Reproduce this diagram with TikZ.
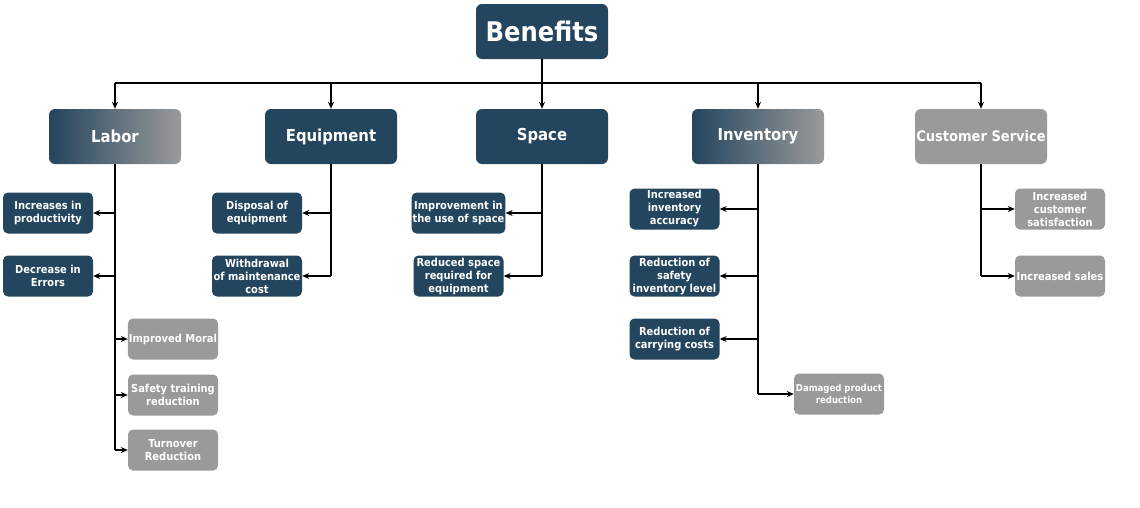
\documentclass[tikz,border=0pt]{standalone}
\usepackage{fontspec}
\setmainfont{DejaVu Sans Condensed}
\usetikzlibrary{arrows.meta}

\definecolor{navy}{HTML}{24455E}
\definecolor{ash}{HTML}{9A9A9A}

\tikzset{
  box/.style={rounded corners=6pt, text=white, align=center, inner sep=1pt},
  topbox/.style={box, fill=navy, minimum width=132pt, minimum height=55pt,
    font=\bfseries\fontsize{27}{30}\selectfont},
  headbox/.style={box, fill=navy, minimum width=132pt, minimum height=55pt,
    font=\bfseries\fontsize{16.5}{19}\selectfont},
  fadebox/.style={headbox, fill=none, left color=navy, right color=ash},
  greyhead/.style={headbox, fill=ash, font=\bfseries\fontsize{14.5}{17}\selectfont},
  itembox/.style={box, rounded corners=5pt, fill=navy, minimum width=90pt,
    minimum height=41pt, font=\bfseries\fontsize{11}{13}\selectfont},
  greyitem/.style={itembox, fill=ash},
  link/.style={line width=1.1pt},
  arr/.style={link, -{Stealth[length=7pt,width=6pt]}}
}

\begin{document}
\begin{tikzpicture}[x=1pt, y=-1pt]
    \useasboundingbox (0,0) rectangle (1140,507);

    % Radice
    \node[topbox] (benefits) at (542,31.5) {Benefits};
    \coordinate (bus) at (542,83);

    % Categorie
    \node[fadebox]  (labor) at (115,136.5) {Labor};
    \node[headbox]  (equip) at (331,136.5) {Equipment};
    \node[headbox]  (space) at (542,136.5) {Space};
    \node[fadebox]  (inv)   at (758,136.5) {Inventory};
    \node[greyhead] (cust)  at (981,136.5) {Customer Service};

    % Bus orizzontale
    \draw[link] (labor.north |- bus) -- (cust.north |- bus);
    \draw[arr] (benefits.south) -- (space.north);
    \foreach \n in {labor, equip, inv, cust}
        \draw[arr] (\n.north |- bus) -- (\n.north);

    % Labor
    \node[itembox]  (prod)  at (48,213)  {Increases in\\productivity};
    \node[itembox]  (err)   at (48,276)  {Decrease in\\Errors};
    \node[greyitem] (moral) at (173,339) {Improved Moral};
    \node[greyitem] (train) at (173,395) {Safety training\\reduction};
    \node[greyitem] (turn)  at (173,450) {Turnover\\Reduction};
    \draw[link] (labor.south) -- (labor.south |- turn.west);
    \foreach \n in {prod, err}
        \draw[arr] (labor.south |- \n.east) -- (\n.east);
    \foreach \n in {moral, train, turn}
        \draw[arr] (labor.south |- \n.west) -- (\n.west);

    % Equipment
    \node[itembox] (disp) at (257,213) {Disposal of\\equipment};
    \node[itembox] (maint) at (257,276) {Withdrawal\\of maintenance\\cost};
    \draw[link] (equip.south) -- (equip.south |- maint.east);
    \foreach \n in {disp, maint}
        \draw[arr] (equip.south |- \n.east) -- (\n.east);

    % Space
    \node[itembox] (use) at (458.5,213) {Improvement in\\the use of space};
    \node[itembox] (reduce) at (458.5,276) {Reduced space\\required for\\equipment};
    \draw[link] (space.south) -- (space.south |- reduce.east);
    \foreach \n in {use, reduce}
        \draw[arr] (space.south |- \n.east) -- (\n.east);

    % Inventory
    \node[itembox]  (acc)   at (674.5,209) {Increased\\inventory\\accuracy};
    \node[itembox]  (safe)  at (674.5,276) {Reduction of\\safety\\inventory level};
    \node[itembox]  (carry) at (674.5,339) {Reduction of\\carrying costs};
    \node[greyitem, font=\bfseries\fontsize{9.5}{11.5}\selectfont]
        (dmg) at (839,394) {Damaged product\\reduction};
    \draw[link] (inv.south) -- (inv.south |- dmg.west);
    \foreach \n in {acc, safe, carry}
        \draw[arr] (inv.south |- \n.east) -- (\n.east);
    \draw[arr] (inv.south |- dmg.west) -- (dmg.west);

    % Customer Service
    \node[greyitem] (satis) at (1060,209) {Increased\\customer\\satisfaction};
    \node[greyitem] (sales) at (1060,276) {Increased sales};
    \draw[link] (cust.south) -- (cust.south |- sales.west);
    \foreach \n in {satis, sales}
        \draw[arr] (cust.south |- \n.west) -- (\n.west);
\end{tikzpicture}
\end{document}
